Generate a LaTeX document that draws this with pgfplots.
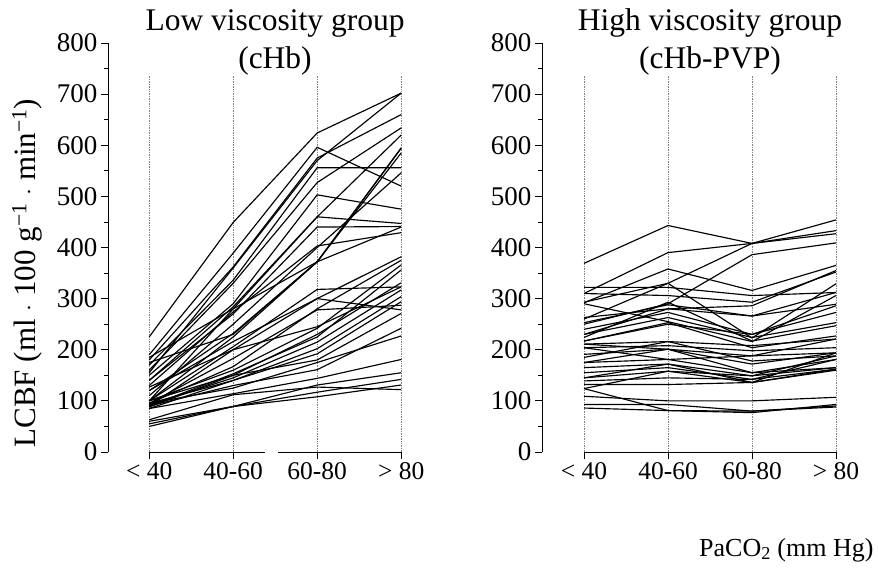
\documentclass[border=0pt]{standalone}
\usepackage{pgfplots}
\pgfplotsset{compat=1.18}
\usepackage{fontspec}
\setmainfont{Liberation Serif}
\begin{document}
\begin{tikzpicture}[x=1pt,y=1pt]
\useasboundingbox (0pt,0pt) rectangle (878pt,576pt);
\tikzset{
  subj/.style={black, line width=1.15pt},
  vgrid/.style={densely dotted, gray, line width=0.7pt},
}
\pgfplotsset{
  panel/.style={
    anchor=south west, scale only axis, height=409pt,
    ymin=0, ymax=800, ytick={0,100,...,800}, minor y tick num=1,
    axis lines*=left, x axis line style={draw=none},
    axis line style={line width=0.9pt},
    xtick={0,1,2,3}, xticklabels={< 40,40-60,60-80,> 80},
    tick align=outside, major tick length=7pt, minor tick length=4pt,
    every tick/.style={black, line width=0.8pt},
    x tick label style={font=\fontsize{25.5}{30}\selectfont},
    y tick label style={font=\fontsize{27}{32}\selectfont},
    /pgf/number format/assume math mode=true,
    clip=false,
  },
}
% ---------------- Left panel ----------------
\begin{axis}[panel, at={(108pt,124pt)}, width=297.4pt, xmin=-0.49, xmax=3.05]
\draw[vgrid] (axis cs:0,0) -- (axis cs:0,737);
\draw[vgrid] (axis cs:1,0) -- (axis cs:1,737);
\draw[vgrid] (axis cs:2,0) -- (axis cs:2,737);
\draw[vgrid] (axis cs:3,0) -- (axis cs:3,737);
\draw[black, line width=0.9pt] (axis cs:0,0) -- (axis cs:1.38,0);
\draw[black, line width=0.9pt] (axis cs:1.53,0) -- (axis cs:3,0);
\addplot[subj] coordinates {(0,225)(1,449)(2,624)(3,702)};
\addplot[subj] coordinates {(0,190)(1,389)(2,596)(3,520)};
\addplot[subj] coordinates {(0,180)(1,362)(2,575)(3,660)};
\addplot[subj] coordinates {(0,170)(1,336)(2,556)(3,556)};
\addplot[subj] coordinates {(0,160)(1,330)(2,527)(3,634)};
\addplot[subj] coordinates {(0,150)(1,290)(2,503)(3,475)};
\addplot[subj] coordinates {(0,140)(1,284)(2,460)(3,447)};
\addplot[subj] coordinates {(0,185)(1,280)(2,460)(3,620)};
\addplot[subj] coordinates {(0,130)(1,274)(2,403)(3,429)};
\addplot[subj] coordinates {(0,120)(1,232)(2,372)(3,594)};
\addplot[subj] coordinates {(0,100)(1,225)(2,372)(3,585)};
\addplot[subj] coordinates {(0,110)(1,250)(2,400)(3,546)};
\addplot[subj] coordinates {(0,155)(1,360)(2,570)(3,702)};
\addplot[subj] coordinates {(0,140)(1,270)(2,440)(3,441)};
\addplot[subj] coordinates {(0,100)(1,206)(2,318)(3,323)};
\addplot[subj] coordinates {(0,95)(1,183)(2,278)(3,287)};
\addplot[subj] coordinates {(0,90)(1,200)(2,300)(3,382)};
\addplot[subj] coordinates {(0,95)(1,167)(2,280)(3,375)};
\addplot[subj] coordinates {(0,100)(1,160)(2,242)(3,366)};
\addplot[subj] coordinates {(0,90)(1,153)(2,225)(3,356)};
\addplot[subj] coordinates {(0,88)(1,150)(2,230)(3,331)};
\addplot[subj] coordinates {(0,92)(1,145)(2,215)(3,317)};
\addplot[subj] coordinates {(0,85)(1,140)(2,202)(3,304)};
\addplot[subj] coordinates {(0,95)(1,140)(2,192)(3,294)};
\addplot[subj] coordinates {(0,100)(1,150)(2,180)(3,271)};
\addplot[subj] coordinates {(0,90)(1,130)(2,161)(3,242)};
\addplot[subj] coordinates {(0,95)(1,125)(2,175)(3,227)};
\addplot[subj] coordinates {(0,85)(1,114)(2,144)(3,181)};
\addplot[subj] coordinates {(0,60)(1,89)(2,131)(3,155)};
\addplot[subj] coordinates {(0,55)(1,89)(2,117)(3,142)};
\addplot[subj] coordinates {(0,50)(1,89)(2,108)(3,131)};
\addplot[subj] coordinates {(0,63)(1,112)(2,127)(3,122)};
\addplot[subj] coordinates {(0,175)(1,230)(2,372)(3,440)};
\addplot[subj] coordinates {(0,100)(1,280)(2,372)(3,595)};
\addplot[subj] coordinates {(0,120)(1,216)(2,300)(3,278)};
\addplot[subj] coordinates {(0,127)(1,200)(2,245)(3,323)};
\end{axis}
% ---------------- Right panel ----------------
\begin{axis}[panel, at={(542pt,124pt)}, width=298.2pt, xmin=-0.5, xmax=3.05]
\draw[vgrid] (axis cs:0,0) -- (axis cs:0,737);
\draw[vgrid] (axis cs:1,0) -- (axis cs:1,737);
\draw[vgrid] (axis cs:2,0) -- (axis cs:2,737);
\draw[vgrid] (axis cs:3,0) -- (axis cs:3,737);
\draw[black, line width=0.9pt] (axis cs:0,0) -- (axis cs:3,0);
\addplot[subj] coordinates {(0,369)(1,443)(2,408)(3,433)};
\addplot[subj] coordinates {(0,310)(1,390)(2,408)(3,454)};
\addplot[subj] coordinates {(0,250)(1,290)(2,386)(3,409)};
\addplot[subj] coordinates {(0,260)(1,330)(2,408)(3,427)};
\addplot[subj] coordinates {(0,292)(1,358)(2,316)(3,365)};
\addplot[subj] coordinates {(0,322)(1,322)(2,306)(3,312)};
\addplot[subj] coordinates {(0,310)(1,306)(2,293)(3,352)};
\addplot[subj] coordinates {(0,293)(1,330)(2,223)(3,329)};
\addplot[subj] coordinates {(0,290)(1,255)(2,216)(3,306)};
\addplot[subj] coordinates {(0,263)(1,280)(2,286)(3,355)};
\addplot[subj] coordinates {(0,253)(1,288)(2,266)(3,289)};
\addplot[subj] coordinates {(0,240)(1,273)(2,230)(3,273)};
\addplot[subj] coordinates {(0,230)(1,263)(2,224)(3,253)};
\addplot[subj] coordinates {(0,224)(1,293)(2,217)(3,247)};
\addplot[subj] coordinates {(0,217)(1,253)(2,204)(3,227)};
\addplot[subj] coordinates {(0,211)(1,216)(2,208)(3,221)};
\addplot[subj] coordinates {(0,204)(1,208)(2,198)(3,204)};
\addplot[subj] coordinates {(0,191)(1,201)(2,188)(3,194)};
\addplot[subj] coordinates {(0,185)(1,216)(2,178)(3,188)};
\addplot[subj] coordinates {(0,175)(1,181)(2,155)(3,181)};
\addplot[subj] coordinates {(0,165)(1,172)(2,149)(3,165)};
\addplot[subj] coordinates {(0,155)(1,165)(2,142)(3,162)};
\addplot[subj] coordinates {(0,145)(1,158)(2,136)(3,162)};
\addplot[subj] coordinates {(0,139)(1,145)(2,142)(3,181)};
\addplot[subj] coordinates {(0,132)(1,132)(2,136)(3,194)};
\addplot[subj] coordinates {(0,124)(1,158)(2,149)(3,188)};
\addplot[subj] coordinates {(0,109)(1,100)(2,100)(3,107)};
\addplot[subj] coordinates {(0,93)(1,93)(2,80)(3,90)};
\addplot[subj] coordinates {(0,86)(1,81)(2,77)(3,93)};
\addplot[subj] coordinates {(0,124)(1,81)(2,80)(3,88)};
\addplot[subj] coordinates {(0,204)(1,181)(2,188)(3,221)};
\addplot[subj] coordinates {(0,211)(1,201)(2,172)(3,194)};
\addplot[subj] coordinates {(0,175)(1,201)(2,155)(3,165)};
\addplot[subj] coordinates {(0,145)(1,172)(2,136)(3,160)};
\addplot[subj] coordinates {(0,230)(1,280)(2,266)(3,312)};
\addplot[subj] coordinates {(0,217)(1,250)(2,230)(3,286)};
\end{axis}
% ---------------- Texts ----------------
\node[align=center, font=\fontsize{31.5}{38}\selectfont] at (275pt,534pt) {Low viscosity group\\(cHb)};
\node[align=center, font=\fontsize{31.5}{38}\selectfont] at (710pt,534pt) {High viscosity group\\(cHb-PVP)};
\node[rotate=90, font=\fontsize{31}{36}\selectfont] at (27pt,303pt) {LCBF (ml $\cdot$ 100 g\textsuperscript{−1} $\cdot$ min\textsuperscript{−1})};
\node[anchor=east, font=\fontsize{26}{31}\selectfont] at (877pt,26pt) {PaCO\textsubscript{2} (mm Hg)};
\end{tikzpicture}
\end{document}
